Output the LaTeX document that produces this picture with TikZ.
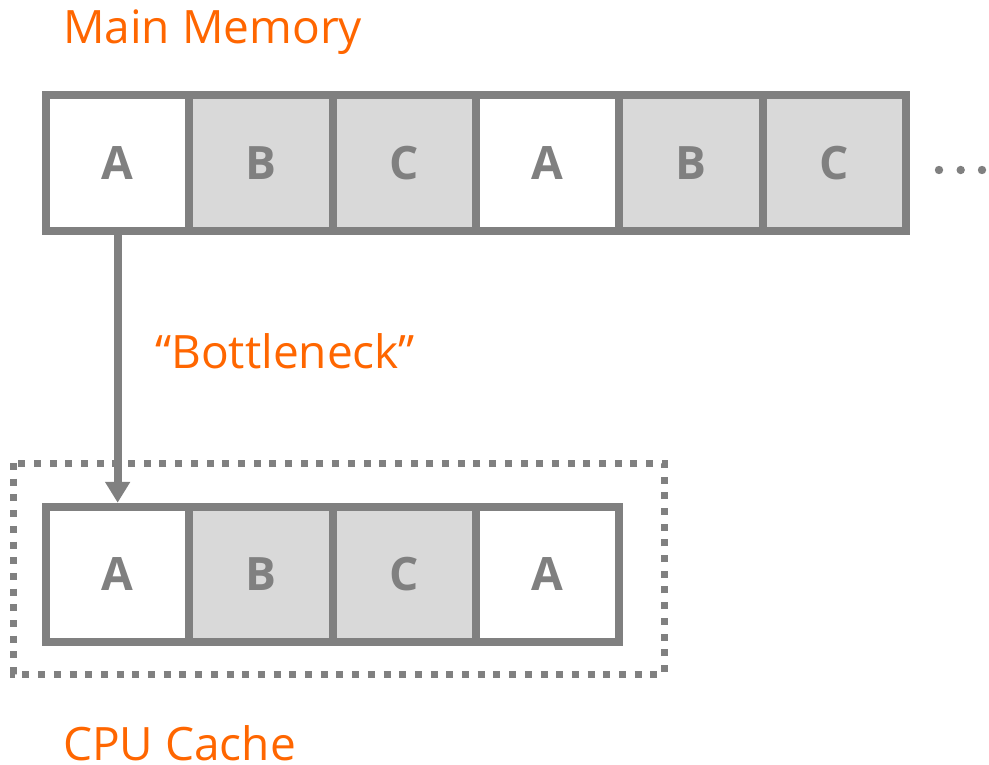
\documentclass[tikz,border=0pt]{standalone}
\usepackage{fontspec}
\setmainfont{Open Sans}
\usetikzlibrary{arrows.meta}
\definecolor{cellgray}{HTML}{808080}
\definecolor{cellfill}{HTML}{D9D9D9}
\definecolor{labelorange}{HTML}{FF6600}
\newcommand{\celltext}[1]{\raisebox{-3pt}{#1}}
\tikzset{
  cell/.style={draw=cellgray, line width=8pt, minimum width=143.3pt, minimum height=135.5pt,
    inner sep=0pt, text=cellgray, font=\fontsize{46}{50}\selectfont\bfseries},
  shaded/.style={fill=cellfill},
  caption/.style={text=labelorange, anchor=base west, inner sep=0pt,
    font=\fontsize{46}{50}\selectfont},
  cachebox/.style={draw=cellgray, line width=7pt, dash pattern=on 7pt off 8.7pt},
}
\begin{document}
\begin{tikzpicture}[x=1pt, y=-1pt]
  \useasboundingbox (0,0) rectangle (989,765);

  % main memory row
  \node[cell]         (m1) at ({46+143.3*0.5},163.25) {\celltext{A}};
  \node[cell, shaded] (m2) at ({46+143.3*1.5},163.25) {\celltext{B}};
  \node[cell, shaded] (m3) at ({46+143.3*2.5},163.25) {\celltext{C}};
  \node[cell]         (m4) at ({46+143.3*3.5},163.25) {\celltext{A}};
  \node[cell, shaded] (m5) at ({46+143.3*4.5},163.25) {\celltext{B}};
  \node[cell, shaded] (m6) at ({46+143.3*5.5},163.25) {\celltext{C}};
  \foreach \x in {939,960.7,982} \fill[cellgray] (\x,170) circle (4.2pt);

  % cache row
  \node[cell]         (c1) at ({46+143.3*0.5},574.5) {\celltext{A}};
  \node[cell, shaded] (c2) at ({46+143.3*1.5},574.5) {\celltext{B}};
  \node[cell, shaded] (c3) at ({46+143.3*2.5},574.5) {\celltext{C}};
  \node[cell]         (c4) at ({46+143.3*3.5},574.5) {\celltext{A}};
  \draw[cachebox] (13.6,463) rectangle (664,674);

  % transfer arrow
  \draw[cellgray, line width=8pt, -{Triangle[width=24pt,length=21pt]}] (m1.south) -- (c1.north);

  % captions
  \node[caption] (tmain) at (63,43.3) {Main Memory};
  \node[caption] (tneck) at (155,368) {“Bottleneck”};
  \node[caption] (tcache) at (63,760) {CPU Cache};
\end{tikzpicture}
\end{document}
